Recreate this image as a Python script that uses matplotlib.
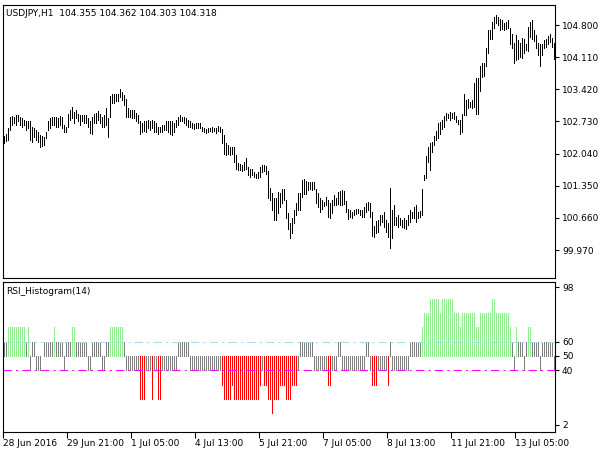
import numpy as np
import matplotlib.pyplot as plt

# USDJPY H1 bars: high / low per bar
highs = [
    102.42, 102.46, 102.58, 102.83, 102.85, 102.83, 102.87, 102.87, 102.83, 102.80,
    102.76, 102.75, 102.73, 102.73, 102.62, 102.58, 102.55, 102.51, 102.44, 102.42,
    102.40, 102.51, 102.73, 102.80, 102.82, 102.83, 102.82, 102.80, 102.85, 102.82,
    102.65, 102.62, 102.90, 102.98, 103.05, 102.94, 102.98, 102.90, 102.87, 102.87,
    102.87, 102.87, 102.80, 102.73, 102.83, 102.90, 102.92, 102.96, 102.90, 102.83,
    102.87, 103.01, 102.80, 103.28, 103.31, 103.33, 103.33, 103.32, 103.42, 103.37,
    103.30, 103.21, 103.01, 102.98, 102.98, 102.98, 102.92, 102.87, 102.73, 102.69,
    102.73, 102.73, 102.76, 102.73, 102.76, 102.73, 102.69, 102.62, 102.62, 102.65,
    102.65, 102.73, 102.73, 102.73, 102.73, 102.69, 102.76, 102.83, 102.87, 102.83,
    102.83, 102.80, 102.76,
    102.75, 102.70, 102.67, 102.69, 102.70, 102.69, 102.62, 102.58, 102.56, 102.58,
    102.60, 102.62, 102.60, 102.58, 102.63, 102.62, 102.56, 102.44, 102.26, 102.22,
    102.19, 102.19, 102.19, 102.01, 101.83, 101.82, 101.79, 101.87, 101.94, 101.76,
    101.72, 101.70, 101.65, 101.60, 101.65, 101.76, 101.79, 101.79, 101.77, 101.67,
    101.31, 101.19, 101.08, 101.08, 101.22, 101.19, 101.27, 101.27, 101.04, 100.76,
    100.54, 100.65, 100.83, 100.97, 101.19, 101.19, 101.47, 101.49, 101.46, 101.44,
    101.44, 101.44, 101.44, 101.29, 101.19, 101.08, 101.04, 101.01, 101.10, 101.04,
    100.97, 101.04, 101.15, 101.08, 101.22, 101.24, 101.26, 101.24, 101.03, 100.86,
    100.84, 100.79, 100.84, 100.86, 100.86, 100.83, 100.83, 100.90, 100.97, 101.01,
    100.97, 100.79, 100.48,
    100.59, 100.61, 100.73, 100.73, 100.78, 100.61, 100.54, 101.31, 100.83, 100.93,
    100.68, 100.72, 100.65, 100.61, 100.65, 100.61, 100.72, 100.83, 100.79, 100.90,
    100.93, 100.79, 100.81, 101.29, 101.58, 101.99, 102.19, 102.26, 102.28, 102.42,
    102.52, 102.69, 102.72, 102.76, 102.85, 102.92, 102.90, 102.94, 102.92, 102.94,
    102.85, 102.76, 102.76, 102.90, 103.31, 103.19, 103.21, 103.15, 103.19, 103.55,
    103.67, 103.67, 103.93, 103.98, 103.98, 104.30, 104.69, 104.69, 104.87, 104.98,
    105.02, 104.98, 104.93, 104.91, 104.84, 104.86, 104.91, 104.73, 104.60, 104.41,
    104.59, 104.48, 104.41, 104.53, 104.51, 104.39, 104.76, 104.86, 104.91, 104.69,
    104.59, 104.41, 104.39, 104.39, 104.48, 104.51, 104.57, 104.60, 104.53, 104.41,
]
lows = [
    102.27, 102.32, 102.33, 102.55, 102.65, 102.69, 102.65, 102.73, 102.65, 102.62,
    102.65, 102.55, 102.58, 102.33, 102.30, 102.40, 102.33, 102.30, 102.19, 102.20,
    102.22, 102.37, 102.55, 102.58, 102.65, 102.65, 102.62, 102.62, 102.65, 102.58,
    102.51, 102.51, 102.62, 102.76, 102.80, 102.69, 102.80, 102.73, 102.65, 102.73,
    102.69, 102.69, 102.62, 102.49, 102.47, 102.69, 102.69, 102.76, 102.69, 102.62,
    102.62, 102.65, 102.39, 102.83, 103.13, 103.13, 103.18, 103.16, 103.25, 103.19,
    103.08, 102.83, 102.83, 102.83, 102.80, 102.80, 102.73, 102.69, 102.47, 102.51,
    102.53, 102.51, 102.58, 102.55, 102.58, 102.51, 102.51, 102.47, 102.51, 102.51,
    102.55, 102.55, 102.51, 102.47, 102.44, 102.51, 102.62, 102.65, 102.73, 102.73,
    102.69, 102.65, 102.62,
    102.62, 102.58, 102.56, 102.58, 102.60, 102.58, 102.53, 102.51, 102.49, 102.51,
    102.53, 102.51, 102.53, 102.49, 102.53, 102.51, 102.27, 102.04, 102.01, 102.04,
    102.01, 102.03, 101.87, 101.72, 101.69, 101.69, 101.67, 101.69, 101.72, 101.58,
    101.54, 101.58, 101.54, 101.51, 101.51, 101.54, 101.65, 101.67, 101.61, 101.08,
    101.04, 100.83, 100.61, 100.61, 100.76, 100.90, 100.97, 101.04, 100.65, 100.43,
    100.22, 100.33, 100.54, 100.72, 100.83, 100.83, 101.11, 101.18, 101.18, 101.26,
    101.27, 101.26, 101.29, 100.97, 100.90, 100.79, 100.86, 100.91, 100.93, 100.68,
    100.65, 100.76, 100.93, 100.93, 100.96, 100.93, 100.93, 100.96, 100.79, 100.63,
    100.68, 100.65, 100.72, 100.74, 100.77, 100.72, 100.68, 100.67, 100.79, 100.83,
    100.68, 100.27, 100.25,
    100.33, 100.36, 100.50, 100.58, 100.47, 100.36, 100.25, 100.02, 100.22, 100.50,
    100.50, 100.47, 100.50, 100.47, 100.45, 100.42, 100.50, 100.58, 100.65, 100.65,
    100.58, 100.66, 100.68, 100.72, 101.47, 101.51, 101.87, 101.69, 102.08, 102.22,
    102.33, 102.38, 102.47, 102.57, 102.62, 102.76, 102.80, 102.76, 102.81, 102.78,
    102.71, 102.67, 102.47, 102.51, 102.87, 102.87, 103.01, 103.05, 103.01, 103.05,
    102.90, 102.90, 103.38, 103.69, 103.71, 103.91, 104.19, 104.51, 104.51, 104.73,
    104.84, 104.80, 104.69, 104.71, 104.69, 104.71, 104.74, 104.39, 104.30, 103.98,
    104.05, 104.08, 104.12, 104.10, 104.19, 104.26, 104.24, 104.55, 104.51, 104.46,
    104.31, 104.16, 103.93, 104.16, 104.30, 104.33, 104.39, 104.44, 104.33, 104.08,
]

# RSI histogram level per bar
rsi = (
    [60, 60] + [70] * 9 + [60, 70, 40, 60, 60, 40, 40, 40, 50] + [60] * 5 + [70]
    + [60] * 4 + [40] + [60] * 3 + [70, 70] + [60] * 6 + [40, 40] + [60] * 5
    + [40, 40, 60, 60] + [70] * 7 + [60] + [40] * 7 + [20] * 3 + [40] * 3 + [20]
    + [40, 40, 20, 20] + [40] * 8 + [60] * 6
    + [40] * 16 + [30] + [20] * 4 + [30] + [20] * 13 + [30]
    + [40, 30, 30, 20, 20, 10, 20, 20, 20, 30, 30, 30, 20, 20, 20, 30, 30, 30, 40]
    + [60] * 7 + [40] * 7 + [30, 30] + [40] * 3 + [60, 60] + [40] * 12 + [60, 60]
    + [40] + [30] * 3 + [40] * 5 + [30] + [60] + [40] * 9 + [60] * 6
    + [70] + [80] * 3 + [90] * 5 + [80] + [90] * 6 + [80] * 3 + [70] + [80] * 7
    + [70, 70] + [80] * 6 + [90, 90] + [80] * 7 + [70, 60, 40, 70] + [60] * 3
    + [40, 60, 70, 70] + [60] * 4 + [40] + [60] * 6 + [40]
)

price_ticks = [104.800, 104.110, 103.420, 102.730, 102.040, 101.350, 100.660, 99.970]
rsi_ticks = [98, 60, 50, 40, 2]
date_labels = ["28 Jun 2016", "29 Jun 21:00", "1 Jul 05:00", "4 Jul 13:00", "5 Jul 21:00",
               "7 Jul 05:00", "8 Jul 13:00", "11 Jul 21:00", "13 Jul 05:00"]

n = len(highs)
x = np.arange(1, n + 1)
FS = 6.5
LW = 0.5

fig = plt.figure(figsize=(6.08, 4.5), dpi=100)
W, H = 608, 450
ax1 = fig.add_axes([3 / W, 1 - 278 / H, 552 / W, 273 / H])
ax2 = fig.add_axes([3 / W, 1 - 432 / H, 552 / W, 150 / H])

# price bars
ax1.vlines(x, lows, highs, color="black", linewidth=LW, antialiased=False)
ax1.set_xlim(0.5, n + 0.5)
ax1.set_ylim(99.37, 105.23)
ax1.yaxis.tick_right()
ax1.set_yticks(price_ticks)
ax1.set_yticklabels([f"{v:.3f}" for v in price_ticks], fontsize=FS)
ax1.set_xticks([])
ax1.tick_params(axis="y", length=3, pad=2)
ax1.text(0.005, 0.985, "USDJPY,H1  104.355 104.362 104.303 104.318", transform=ax1.transAxes,
         fontsize=FS, va="top", ha="left")

# rsi histogram
rsi = np.array(rsi)
cols = np.where(rsi > 60, "#90ee90", np.where(rsi < 40, "#ff0000", "#808080"))
ax2.vlines(x, 50, rsi, colors=cols, linewidth=LW, antialiased=False)
ax2.axhline(60, color="#add8e6", linestyle=(0, (8, 4, 2, 4)), linewidth=0.75)
ax2.axhline(40, color="#ff00ff", linestyle=(0, (8, 4, 2, 4)), linewidth=0.75)
ax2.set_xlim(0.5, n + 0.5)
ax2.set_ylim(-2.9, 101.5)
ax2.yaxis.tick_right()
ax2.set_yticks(rsi_ticks)
ax2.set_yticklabels([str(v) for v in rsi_ticks], fontsize=FS)
ax2.tick_params(axis="y", length=3, pad=2)
ax2.set_xticks([0.5 + 32 * k for k in range(len(date_labels))])
ax2.set_xticklabels(date_labels, fontsize=FS, ha="left")
ax2.tick_params(axis="x", length=4, pad=1)
ax2.text(0.005, 0.97, "RSI_Histogram(14)", transform=ax2.transAxes,
         fontsize=FS, va="top", ha="left")

fig.savefig("out.png", dpi=100)
